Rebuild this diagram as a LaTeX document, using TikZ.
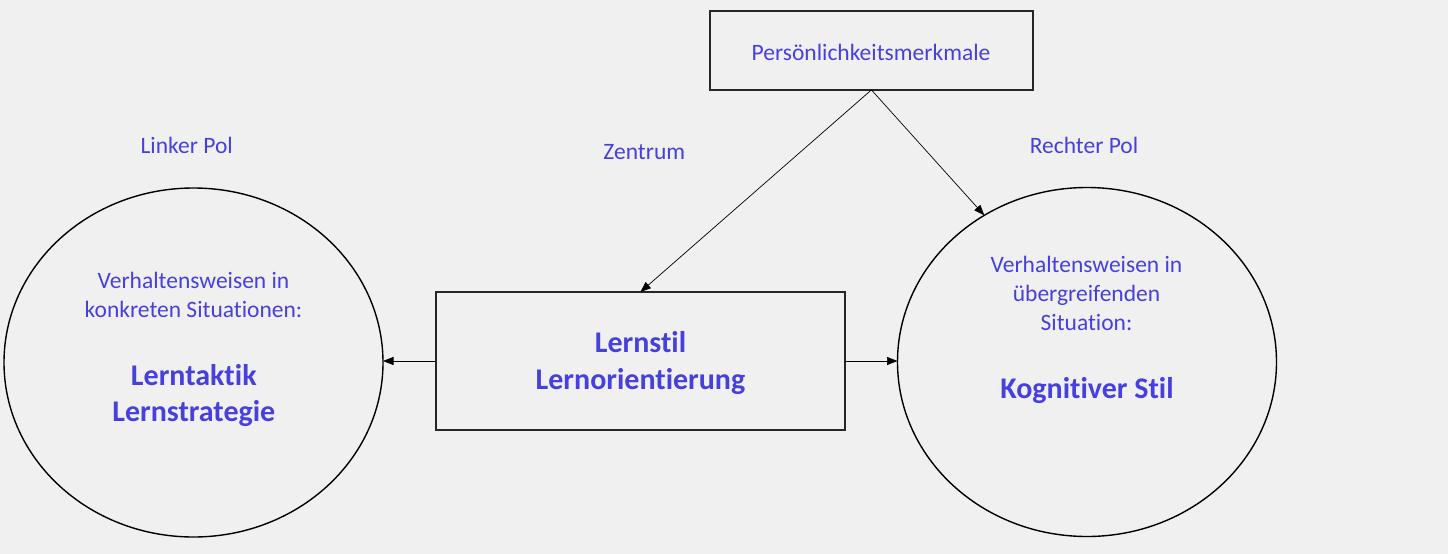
\documentclass[tikz,border=0pt]{standalone}
\usepackage{fontspec}
\setmainfont{Carlito}[Ligatures=NoCommon]
\usetikzlibrary{arrows.meta,shapes.geometric}
\definecolor{bg}{HTML}{F0F0F0}
\definecolor{txt}{RGB}{72,64,222}
\definecolor{boxline}{HTML}{262626}
\tikzset{
  lbl/.style={anchor=base,inner sep=0pt,outer sep=0pt,text=txt,font=\fontsize{23.5}{28.7}\selectfont},
  blbl/.style={anchor=base,inner sep=0pt,outer sep=0pt,text=txt,font=\fontsize{30}{36}\selectfont\bfseries},
  rbox/.style={draw=boxline,line width=1.8pt,rectangle,inner sep=0pt,outer sep=0pt},
  oval/.style={draw=black,line width=1.4pt,ellipse,inner sep=0pt,outer sep=0pt,minimum width=379pt,minimum height=349pt},
  conn/.style={draw=black,line width=0.7pt,-{Triangle[length=10.5pt,width=8pt]}}
}
\begin{document}
\begin{tikzpicture}[x=1pt,y=-1pt]
\useasboundingbox (0,0) rectangle (1451,554);
\fill[white] (0,0) rectangle (1451,554);
\fill[bg] (0,0) rectangle (1448,554);
% shapes
\node[rbox,minimum width=323pt,minimum height=79pt] (pm) at (871.4,50.4) {};
\node[rbox,minimum width=409pt,minimum height=138pt] (ls) at (640.4,361) {};
\node[oval] (lE) at (193.5,362.5) {};
\node[oval] (rE) at (1087,362) {};
% texts
\node[lbl] (tpm) at (871,60) {Persönlichkeitsmerkmale};
\node[lbl] (tlp) at (186.7,153.3) {Linker Pol};
\node[lbl] (tz) at (644.3,159.7) {Zentrum};
\node[lbl] (trp) at (1084,153) {Rechter Pol};
\node[lbl] (l1) at (193.5,288) {Verhaltensweisen in};
\node[lbl] (l2) at (193.5,317) {konkreten Situationen:};
\node[blbl] (l3) at (193.8,385) {Lerntaktik};
\node[blbl] (l4) at (193.8,421) {Lernstrategie};
\node[blbl] (c1) at (640.5,352.5) {Lernstil};
\node[blbl] (c2) at (640.5,389) {Lernorientierung};
\node[lbl] (r1) at (1086.5,272.3) {Verhaltensweisen in};
\node[lbl] (r2) at (1086.5,301.5) {übergreifenden};
\node[lbl] (r3) at (1086.5,330.7) {Situation:};
\node[blbl] (r4) at (1087,398.3) {Kognitiver Stil};
% connectors
\draw[conn] (pm.south) -- (ls.north);
\draw[conn] (pm.south) -- (rE.125.3);
\draw[conn] (ls.west) -- (ls.west -| lE.east);
\draw[conn] (ls.east) -- (ls.east -| rE.west);
\end{tikzpicture}
\end{document}
